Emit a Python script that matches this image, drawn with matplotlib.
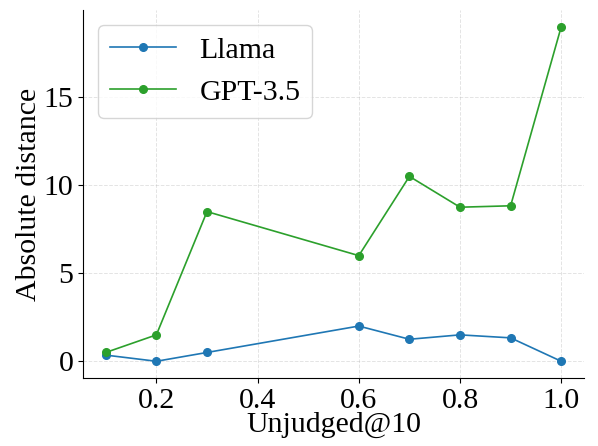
import matplotlib
matplotlib.use("Agg")
import matplotlib.pyplot as plt

# Dane
unjudged = [0.1, 0.2, 0.3, 0.6, 0.7, 0.8, 0.9, 1.0]
llama = [0.35, 0.0, 0.5, 2.0, 1.25, 1.5, 1.33, 0.0]
gpt35 = [0.5, 1.5, 8.5, 6.0, 10.5, 8.75, 8.83, 19.0]

plt.rcParams['font.family'] = ['Liberation Serif', 'DejaVu Serif']
plt.rcParams['font.size'] = 21.5

fig = plt.figure(figsize=(5.98, 4.46), dpi=100)
ax = fig.add_axes([83 / 598, 68 / 446, (584 - 83) / 598, (378 - 10) / 446])

ax.plot(unjudged, llama, color='tab:blue', marker='o', markersize=5.5,
        linewidth=1.2, label='Llama')
ax.plot(unjudged, gpt35, color='tab:green', marker='o', markersize=5.5,
        linewidth=1.2, label='GPT-3.5')

ax.set_xlabel('Unjudged@10', labelpad=-1)
ax.set_ylabel('Absolute distance', labelpad=1)
ax.set_xticks([0.2, 0.4, 0.6, 0.8, 1.0])
ax.set_yticks([0, 5, 10, 15])
ax.grid(True, linestyle='--', alpha=0.35, linewidth=0.7)
ax.spines['top'].set_visible(False)
ax.spines['right'].set_visible(False)
ax.legend(loc='upper left', fontsize=21.5, handlelength=2.2)

fig.savefig('out.png', dpi=100)
